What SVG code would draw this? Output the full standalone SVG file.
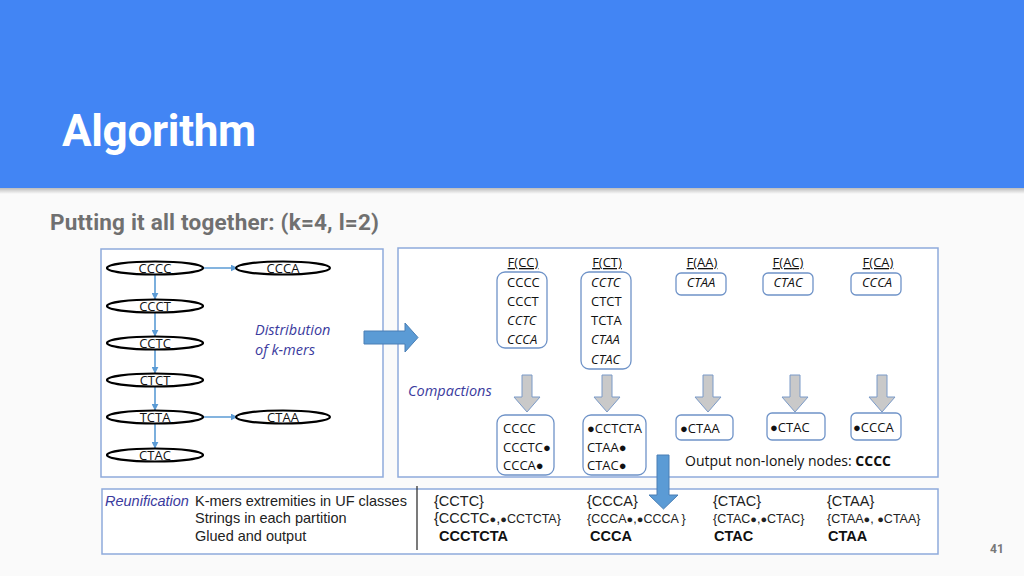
<svg xmlns="http://www.w3.org/2000/svg" width="1024" height="576" viewBox="0 0 1024 576">
<defs>
<marker id="ah" viewBox="0 0 10 10" refX="9" refY="5" markerWidth="7" markerHeight="7" orient="auto" markerUnits="userSpaceOnUse">
<path d="M0,0 L10,5 L0,10 z" fill="#5b9bd5"/>
</marker>
<linearGradient id="sh" x1="0" y1="0" x2="0" y2="1">
<stop offset="0" stop-color="#000" stop-opacity="0.25"/>
<stop offset="1" stop-color="#000" stop-opacity="0"/>
</linearGradient>
<style>
.ell{fill:#fff;stroke:#000;stroke-width:2.2}
.et{font-family:"Open Sans","Liberation Sans",sans-serif;font-size:13px;fill:#111;text-anchor:middle}
.cal{font-family:"Open Sans","Liberation Sans","DejaVu Sans",sans-serif;font-size:13px;fill:#111}
.it{font-style:italic}
.pur{font-family:"Open Sans","Liberation Sans",sans-serif;font-size:14.5px;font-style:italic;fill:#3b3b9e}
.panel{fill:#fff;stroke:#8eaadb;stroke-width:1.5}
.box{fill:#fff;stroke:#6f93c8;stroke-width:1.3}
.garr{fill:#c9c9c9;stroke:#7a9ac8;stroke-width:1}
.barr{fill:#5b9bd5;stroke:#4a7fb5;stroke-width:1}
.edge{stroke:#5b9bd5;stroke-width:1.6;fill:none}
.ar{font-family:"Liberation Sans",Arial,sans-serif;font-size:14.5px;fill:#222}
.ars{font-family:"Liberation Sans",Arial,sans-serif;font-size:12.5px;fill:#222}
.arb{font-family:"Liberation Sans",Arial,sans-serif;font-size:14.5px;font-weight:bold;fill:#111}
.bul{font-size:11px}
</style>
</defs>
<rect width="1024" height="576" fill="#fafafa"/>
<rect x="0" y="188" width="1024" height="6" fill="url(#sh)"/>
<rect width="1024" height="188" fill="#4285f4"/>
<text x="62" y="146" font-family="Roboto,'Liberation Sans',sans-serif" font-weight="bold" font-size="44" fill="#fff" letter-spacing="-0.3">Algorithm</text>
<text x="50" y="230" font-family="Roboto,'Liberation Sans',sans-serif" font-weight="bold" font-size="22.5" fill="#707070" letter-spacing="0.2">Putting it all together: (k=4, l=2)</text>

<g id="panel-left">
<rect class="panel" x="101" y="249" width="282" height="228"/>
<text class="pur" x="255" y="335">Distribution</text>
<text class="pur" x="255" y="355">of k-mers</text>
</g>
<g id="panel-right">
<rect class="panel" x="398" y="248" width="540" height="229"/>
<text class="pur" x="408" y="396">Compactions</text>
<text class="cal" x="685" y="466" style="font-size:14px">Output non-lonely nodes: <tspan font-weight="bold">CCCC</tspan></text>
</g>
<g id="panel-bottom">
<rect class="panel" x="102" y="489" width="836" height="65"/>
<line x1="417" y1="486" x2="417" y2="550" stroke="#333" stroke-width="1.3"/>
<text class="pur" x="105" y="506" style="font-family:'Liberation Sans',Arial,sans-serif;font-size:14.5px">Reunification</text>
<text class="ar" x="195" y="506">K-mers extremities in UF classes</text>
<text class="ar" x="195" y="523">Strings in each partition</text>
<text class="ar" x="195" y="541">Glued and output</text>
</g>

<g id="connectors">
<line class="edge" x1="203" y1="268" x2="237" y2="268" marker-end="url(#ah)"/>
<line class="edge" x1="203" y1="417" x2="237" y2="417" marker-end="url(#ah)"/>
<line class="edge" x1="155" y1="275" x2="155" y2="299" marker-end="url(#ah)"/>
<line class="edge" x1="155" y1="313" x2="155" y2="336" marker-end="url(#ah)"/>
<line class="edge" x1="155" y1="350" x2="155" y2="373" marker-end="url(#ah)"/>
<line class="edge" x1="155" y1="387" x2="155" y2="410" marker-end="url(#ah)"/>
<line class="edge" x1="155" y1="424" x2="155" y2="448" marker-end="url(#ah)"/>
<polygon class="barr" points="364,331 405,331 405,323 418,337.5 405,352 405,344 364,344"/>
<polygon class="garr" points="522,375 532,375 532,397 540,397 527,412 514,397 522,397"/>
<polygon class="garr" points="602,375 612,375 612,397 620,397 607,412 594,397 602,397"/>
<polygon class="garr" points="703,375 713,375 713,397 721,397 708,412 695,397 703,397"/>
<polygon class="garr" points="790,375 800,375 800,397 808,397 795,412 782,397 790,397"/>
<polygon class="garr" points="877,375 887,375 887,397 895,397 882,412 869,397 877,397"/>
<polygon class="barr" points="657,455 669,455 669,495 678,495 663.5,509 649,495 657,495"/>
</g>

<g id="n-cccc"><ellipse class="ell" cx="155" cy="268" rx="48" ry="6.5"/><text class="et" x="155" y="273">CCCC</text></g>
<g id="n-ccca"><ellipse class="ell" cx="283" cy="268" rx="47" ry="6.5"/><text class="et" x="283" y="273">CCCA</text></g>
<g id="n-ccct"><ellipse class="ell" cx="155" cy="306" rx="48" ry="6.5"/><text class="et" x="155" y="311">CCCT</text></g>
<g id="n-cctc"><ellipse class="ell" cx="155" cy="343" rx="48" ry="6.5"/><text class="et" x="155" y="348">CCTC</text></g>
<g id="n-ctct"><ellipse class="ell" cx="155" cy="380" rx="48" ry="6.5"/><text class="et" x="155" y="385">CTCT</text></g>
<g id="n-tcta"><ellipse class="ell" cx="155" cy="417" rx="48" ry="6.5"/><text class="et" x="155" y="422">TCTA</text></g>
<g id="n-ctaa"><ellipse class="ell" cx="283" cy="417" rx="47" ry="6.5"/><text class="et" x="283" y="422">CTAA</text></g>
<g id="n-ctac"><ellipse class="ell" cx="155" cy="455" rx="48" ry="6.5"/><text class="et" x="155" y="460">CTAC</text></g>

<g id="f-cc">
<text class="cal" x="523" y="267" text-anchor="middle" text-decoration="underline">F(CC)</text>
<rect class="box" x="497" y="272" width="50" height="76" rx="8"/>
<text class="cal" x="507" y="287">CCCC</text>
<text class="cal" x="507" y="306">CCCT</text>
<text class="cal it" x="507" y="325">CCTC</text>
<text class="cal it" x="507" y="344">CCCA</text>
</g>
<g id="f-ct">
<text class="cal" x="607" y="267" text-anchor="middle" text-decoration="underline">F(CT)</text>
<rect class="box" x="581" y="272" width="50" height="97" rx="8"/>
<text class="cal it" x="591" y="287">CCTC</text>
<text class="cal" x="591" y="306">CTCT</text>
<text class="cal" x="591" y="325">TCTA</text>
<text class="cal it" x="591" y="344">CTAA</text>
<text class="cal it" x="591" y="364">CTAC</text>
</g>
<g id="f-aa">
<text class="cal" x="702" y="267" text-anchor="middle" text-decoration="underline">F(AA)</text>
<rect class="box" x="676" y="273" width="50" height="22" rx="5"/>
<text class="cal it" x="701" y="287" text-anchor="middle">CTAA</text>
</g>
<g id="f-ac">
<text class="cal" x="788" y="267" text-anchor="middle" text-decoration="underline">F(AC)</text>
<rect class="box" x="763" y="273" width="50" height="22" rx="5"/>
<text class="cal it" x="788" y="287" text-anchor="middle">CTAC</text>
</g>
<g id="f-ca">
<text class="cal" x="878" y="267" text-anchor="middle" text-decoration="underline">F(CA)</text>
<rect class="box" x="851" y="273" width="50" height="22" rx="5"/>
<text class="cal it" x="877" y="287" text-anchor="middle">CCCA</text>
</g>

<g id="c-cc">
<rect class="box" x="497" y="415" width="57" height="60" rx="8"/>
<text class="cal" x="503" y="433">CCCC</text>
<text class="cal" x="503" y="452">CCCTC●</text>
<text class="cal" x="503" y="470">CCCA●</text>
</g>
<g id="c-ct">
<rect class="box" x="583" y="415" width="63" height="60" rx="8"/>
<text class="cal" x="587" y="433">●CCTCTA</text>
<text class="cal" x="587" y="452">CTAA●</text>
<text class="cal" x="587" y="470">CTAC●</text>
</g>
<g id="c-aa">
<rect class="box" x="676" y="415" width="57" height="25" rx="5"/>
<text class="cal" x="680" y="433">●CTAA</text>
</g>
<g id="c-ac">
<rect class="box" x="767" y="413" width="58" height="27" rx="5"/>
<text class="cal" x="770" y="432">●CTAC</text>
</g>
<g id="c-ca">
<rect class="box" x="851" y="413" width="50" height="27" rx="5"/>
<text class="cal" x="853" y="432">●CCCA</text>
</g>

<g id="r-1">
<text class="ar" x="434" y="506">{CCTC}</text>
<text class="ar" x="434" y="523">{CCCTC<tspan class="bul">●</tspan>,<tspan class="bul">●</tspan><tspan style="font-size:12.5px">CCTCTA}</tspan></text>
<text class="arb" x="439" y="541">CCCTCTA</text>
</g>
<g id="r-2">
<text class="ar" x="587" y="506">{CCCA}</text>
<text class="ars" x="587" y="523">{CCCA<tspan class="bul">●</tspan>,<tspan class="bul">●</tspan>CCCA }</text>
<text class="arb" x="590" y="541">CCCA</text>
</g>
<g id="r-3">
<text class="ar" x="713" y="506">{CTAC}</text>
<text class="ars" x="713" y="523">{CTAC<tspan class="bul">●</tspan>,<tspan class="bul">●</tspan>CTAC}</text>
<text class="arb" x="714" y="541">CTAC</text>
</g>
<g id="r-4">
<text class="ar" x="827" y="506">{CTAA}</text>
<text class="ars" x="827" y="523">{CTAA<tspan class="bul">●</tspan>, <tspan class="bul">●</tspan>CTAA}</text>
<text class="arb" x="828" y="541">CTAA</text>
</g>

<text x="997" y="553" font-family="Roboto,'Liberation Sans',sans-serif" font-weight="bold" font-size="12" fill="#777" text-anchor="middle">41</text>
</svg>
